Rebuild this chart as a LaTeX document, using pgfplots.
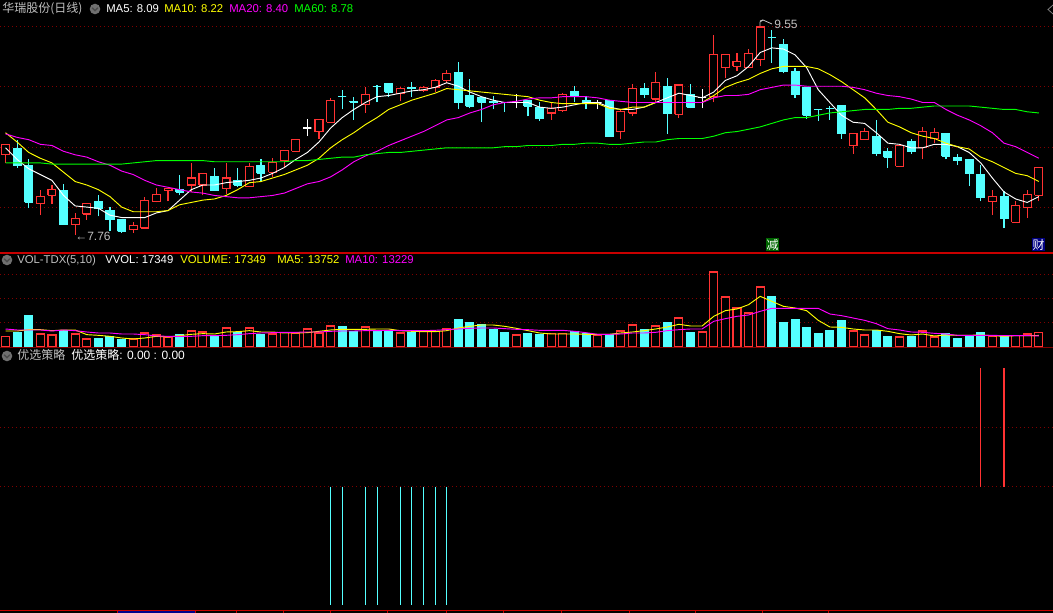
\documentclass[border=0pt]{standalone}
\usepackage{fontspec}
\usepackage{pgfplots}
\usepackage{pgfplotstable}
\pgfplotsset{compat=1.18}
\setmainfont{Liberation Sans}
\newfontfamily\cjk{Noto Sans CJK SC}

\definecolor{cred}{HTML}{FF3232}
\definecolor{ccyan}{HTML}{54FFFF}
\definecolor{cyel}{HTML}{FFFF00}
\definecolor{cmag}{HTML}{FF00FF}
\definecolor{cgrn}{HTML}{00FF00}
\definecolor{gridred}{HTML}{800000}
\definecolor{sepred}{HTML}{C80000}
\definecolor{txtgray}{HTML}{C0C0C0}
\definecolor{iconbg}{HTML}{707070}

% one candle: line, fill, index, low, body bottom, body top, high (prices)
\newcommand{\cnd}[7]{%
  \pgfmathsetmacro\xl{#3-0.34}\pgfmathsetmacro\xr{#3+0.34}%
  \edef\tmp{%
    \noexpand\addplot[draw=#1,line width=0.85pt] coordinates {(#3,#4)(#3,#7)};
    \noexpand\addplot[draw=#1,fill=#2,line width=0.85pt] coordinates {(\xl,#5)(\xr,#5)(\xr,#6)(\xl,#6)(\xl,#5)};
  }\tmp}
\newcommand{\candU}[5]{\cnd{cred}{black}{#1}{#2}{#3}{#4}{#5}}
\newcommand{\candD}[5]{\cnd{ccyan}{ccyan}{#1}{#2}{#3}{#4}{#5}}
\newcommand{\candW}[5]{\cnd{white}{white}{#1}{#2}{#3}{#4}{#5}}

\pgfplotstableread{
i ma5 ma10 ma20 ma60
0 8.51 8.64 8.63 8.38
1 8.41 8.56 8.60 8.38
2 8.33 8.47 8.58 8.38
3 8.28 8.42 8.54 8.38
4 8.23 8.38 8.53 8.37
5 8.10 8.30 8.48 8.37
6 8.01 8.22 8.45 8.37
7 8.00 8.19 8.43 8.37
8 7.99 8.15 8.39 8.37
9 7.93 8.09 8.36 8.37
10 7.91 8.00 8.31 8.37
11 7.91 7.96 8.28 8.38
12 7.91 7.96 8.23 8.39
13 7.95 7.96 8.19 8.40
14 7.97 7.97 8.17 8.40
15 8.06 8.02 8.15 8.40
16 8.15 8.04 8.13 8.40
17 8.19 8.06 8.12 8.40
18 8.19 8.07 8.10 8.39
19 8.21 8.10 8.09 8.39
20 8.22 8.15 8.08 8.39
21 8.23 8.21 8.08 8.39
22 8.25 8.22 8.09 8.39
23 8.29 8.25 8.10 8.39
24 8.34 8.28 8.12 8.39
25 8.41 8.32 8.16 8.40
26 8.47 8.36 8.20 8.40
27 8.56 8.42 8.22 8.41
28 8.68 8.51 8.26 8.42
29 8.77 8.58 8.32 8.43
30 8.84 8.64 8.39 8.43
31 8.90 8.71 8.44 8.45
32 8.95 8.77 8.48 8.46
33 8.96 8.84 8.53 8.47
34 8.98 8.88 8.57 8.47
35 9.00 8.92 8.61 8.48
36 9.01 8.95 8.65 8.49
37 9.03 8.98 8.70 8.50
38 9.07 9.02 8.75 8.51
39 9.04 9.01 8.77 8.51
40 8.99 9.00 8.81 8.51
41 8.95 8.99 8.84 8.51
42 8.92 8.98 8.88 8.51
43 8.90 8.97 8.90 8.52
44 8.90 8.96 8.91 8.52
45 8.90 8.95 8.93 8.53
46 8.86 8.92 8.94 8.53
47 8.85 8.90 8.94 8.53
48 8.86 8.89 8.95 8.54
49 8.88 8.89 8.95 8.54
50 8.90 8.89 8.95 8.55
51 8.90 8.89 8.94 8.55
52 8.86 8.85 8.92 8.54
53 8.84 8.84 8.91 8.54
54 8.84 8.86 8.90 8.55
55 8.86 8.86 8.90 8.56
56 8.90 8.90 8.90 8.56
57 8.94 8.90 8.90 8.58
58 8.98 8.90 8.90 8.59
59 8.96 8.90 8.90 8.59
60 8.94 8.90 8.90 8.59
61 8.99 8.96 8.94 8.61
62 9.09 9.03 8.96 8.64
63 9.13 9.07 8.96 8.65
64 9.21 9.10 8.97 8.67
65 9.33 9.15 9.01 8.69
66 9.37 9.19 9.03 8.72
67 9.36 9.21 9.05 8.75
68 9.31 9.21 9.05 8.77
69 9.20 9.21 9.04 8.77
70 9.01 9.19 9.04 8.79
71 8.90 9.14 9.04 8.81
72 8.79 9.08 9.04 8.82
73 8.73 9.01 9.03 8.83
74 8.72 8.94 9.01 8.84
75 8.64 8.84 8.98 8.84
76 8.55 8.73 8.96 8.84
77 8.54 8.69 8.95 8.85
78 8.51 8.64 8.93 8.85
79 8.51 8.61 8.90 8.86
80 8.54 8.59 8.90 8.87
81 8.54 8.55 8.84 8.87
82 8.52 8.52 8.79 8.87
83 8.47 8.50 8.75 8.87
84 8.38 8.43 8.70 8.86
85 8.25 8.39 8.64 8.85
86 8.13 8.34 8.55 8.84
87 8.07 8.29 8.52 8.84
88 8.04 8.27 8.47 8.82
89 8.09 8.22 8.42 8.81
}\matable

\pgfplotstableread{
i v5 v10
0 19060 21440
1 19060 20250
2 20640 20250
3 20640 20250
4 19450 19060
5 20250 20250
6 20250 19450
7 14690 17870
8 13900 16670
9 12700 16670
10 10720 15480
11 9530 15480
12 10720 14690
13 12700 13100
14 11910 12700
15 13500 12700
16 15090 12700
17 15880 13500
18 15480 13500
19 17870 13900
20 18260 14690
21 19450 15880
22 17870 16670
23 17870 17070
24 16670 17470
25 16670 17470
26 17070 17870
27 18660 17870
28 20250 18660
29 21040 19060
30 21040 19060
31 21040 19450
32 21440 19450
33 21440 19850
34 19450 19450
35 18660 19450
36 18260 19450
37 18260 19850
38 19450 20640
39 22630 21440
40 24610 22230
41 26200 22630
42 26200 22630
43 24610 21840
44 22230 21040
45 19450 20640
46 16670 19850
47 15480 19850
48 15480 19850
49 15480 18660
50 15090 17070
51 15090 15090
52 15090 15090
53 16670 15480
54 17870 16670
55 19450 16670
56 21440 17470
57 23820 19450
58 27000 20640
59 25010 21440
60 25010 21440
61 36520 30570
62 43270 33750
63 45260 36520
64 50420 38110
65 60340 42480
66 54390 46050
67 48430 46050
68 46450 46050
69 43270 46050
70 31760 46050
71 23820 39300
72 23420 37320
73 21440 34540
74 20250 31760
75 20250 27790
76 18660 21840
77 15880 20250
78 14290 17870
79 15480 17470
80 13100 16280
81 14290 15480
82 13900 13900
83 13900 13900
84 14290 13900
85 13500 13900
86 12700 13500
87 13500 13500
88 13500 13500
89 13752 13229
}\voltable

\pgfplotsset{
  panel/.style={
    scale only axis, width=789.75pt, anchor=south west,
    xmin=-0.474, xmax=90.22,
    axis line style={draw=none},
    xtick=\empty, yticklabels={}, xticklabels={},
    ytick style={draw=none},
    ymajorgrids,
    grid style={draw=gridred, line width=0.75pt, dash pattern=on 0.75pt off 2.25pt},
  },
}
\tikzset{
  lbl/.style={anchor=base west, inner sep=0pt, font=\fontsize{8.5}{10}\selectfont},
  cjklbl/.style={anchor=base west, inner sep=0pt, font=\fontsize{9}{10}\selectfont\cjk},
}
% chevron icon, centre given in page pixels
\newcommand{\icon}[2]{
  \fill[iconbg] (#1,#2) circle (5.3);
  \draw[black!70,line width=1pt] (#1-2.8,#2+1.2) -- (#1,#2-1.6) -- (#1+2.8,#2+1.2);
}

\begin{document}
\begin{tikzpicture}[x=0.75pt,y=0.75pt]
\fill[black] (0,0) rectangle (1053,613);
\useasboundingbox (0,0) rectangle (1053,613);

% price panel
\begin{axis}[panel, at={(0pt,270pt)}, height=189.75pt,
  ymin=7.605, ymax=9.782, ytick={8.0,8.514,9.036,9.552}]
\candU{0}{8.38}{8.45}{8.54}{8.54}
\candD{1}{8.34}{8.36}{8.50}{8.58}
\candD{2}{7.99}{8.04}{8.36}{8.41}
\candU{3}{7.93}{8.03}{8.09}{8.15}
\candU{4}{8.03}{8.10}{8.15}{8.19}
\candD{5}{7.85}{7.85}{8.14}{8.20}
\candU{6}{7.76}{7.85}{7.90}{7.95}
\candU{7}{7.89}{7.94}{8.03}{8.03}
\candD{8}{7.92}{7.99}{8.05}{8.10}
\candD{9}{7.79}{7.89}{7.97}{8.00}
\candD{10}{7.78}{7.79}{7.89}{7.89}
\candU{11}{7.78}{7.81}{7.84}{7.87}
\candU{12}{7.82}{7.82}{8.06}{8.09}
\candU{13}{8.04}{8.05}{8.11}{8.16}
\candU{14}{8.05}{8.14}{8.16}{8.16}
\candD{15}{8.10}{8.13}{8.15}{8.28}
\candU{16}{8.13}{8.19}{8.25}{8.38}
\candU{17}{8.10}{8.19}{8.29}{8.29}
\candD{18}{8.14}{8.14}{8.26}{8.34}
\candU{19}{8.11}{8.16}{8.25}{8.38}
\candD{20}{8.17}{8.19}{8.23}{8.34}
\candU{21}{8.18}{8.18}{8.35}{8.38}
\candD{22}{8.22}{8.29}{8.36}{8.41}
\candU{23}{8.26}{8.30}{8.38}{8.42}
\candU{24}{8.34}{8.40}{8.49}{8.49}
\candU{25}{8.48}{8.48}{8.58}{8.59}
\candW{26}{8.61}{8.68}{8.68}{8.76}
\candU{27}{8.59}{8.65}{8.75}{8.75}
\candU{28}{8.73}{8.73}{8.92}{8.94}
\candD{29}{8.84}{8.95}{8.95}{9.01}
\candD{30}{8.75}{8.90}{8.91}{8.95}
\candU{31}{8.81}{8.88}{8.97}{9.03}
\candD{32}{8.90}{9.04}{9.04}{9.05}
\candD{33}{8.95}{8.99}{9.06}{9.06}
\candU{34}{8.91}{8.98}{9.02}{9.03}
\candD{35}{8.95}{9.02}{9.03}{9.08}
\candU{36}{8.99}{9.00}{9.03}{9.04}
\candU{37}{8.99}{9.03}{9.09}{9.10}
\candU{38}{9.07}{9.09}{9.15}{9.18}
\candD{39}{8.84}{8.90}{9.16}{9.25}
\candD{40}{8.85}{8.87}{8.96}{9.10}
\candD{41}{8.73}{8.90}{8.94}{8.94}
\candD{42}{8.84}{8.90}{8.91}{8.96}
\candD{43}{8.82}{8.90}{8.90}{8.90}
\candW{44}{8.85}{8.90}{8.90}{8.97}
\candD{45}{8.78}{8.87}{8.92}{8.92}
\candD{46}{8.74}{8.76}{8.86}{8.90}
\candU{47}{8.75}{8.81}{8.85}{8.90}
\candU{48}{8.82}{8.83}{8.97}{8.98}
\candD{49}{8.90}{8.95}{8.99}{9.04}
\candD{50}{8.84}{8.89}{8.92}{8.96}
\candW{51}{8.84}{8.90}{8.90}{8.92}
\candD{52}{8.61}{8.61}{8.92}{8.92}
\candU{53}{8.59}{8.65}{8.82}{8.84}
\candU{54}{8.78}{8.81}{9.02}{9.06}
\candD{55}{8.94}{8.97}{9.02}{9.07}
\candU{56}{8.90}{8.93}{9.07}{9.16}
\candD{57}{8.63}{8.81}{9.04}{9.11}
\candU{58}{8.77}{8.80}{9.05}{9.05}
\candD{59}{8.85}{8.86}{8.97}{9.06}
\candW{60}{8.85}{8.94}{8.94}{9.02}
\candU{61}{8.90}{8.95}{9.31}{9.48}
\candU{62}{9.11}{9.20}{9.31}{9.31}
\candU{63}{9.17}{9.21}{9.25}{9.33}
\candU{64}{9.20}{9.20}{9.32}{9.36}
\candU{65}{9.21}{9.27}{9.55}{9.55}
\candD{66}{9.24}{9.46}{9.46}{9.52}
\candD{67}{9.15}{9.17}{9.40}{9.45}
\candD{68}{8.94}{8.97}{9.17}{9.20}
\candD{69}{8.76}{8.79}{9.03}{9.03}
\candD{70}{8.74}{8.84}{8.84}{8.84}
\candD{71}{8.75}{8.85}{8.85}{8.87}
\candD{72}{8.59}{8.63}{8.87}{8.87}
\candU{73}{8.46}{8.53}{8.63}{8.63}
\candU{74}{8.58}{8.58}{8.65}{8.68}
\candD{75}{8.44}{8.46}{8.61}{8.75}
\candD{76}{8.34}{8.43}{8.48}{8.51}
\candU{77}{8.35}{8.35}{8.53}{8.53}
\candD{78}{8.46}{8.48}{8.56}{8.59}
\candU{79}{8.41}{8.51}{8.65}{8.69}
\candU{80}{8.55}{8.59}{8.64}{8.68}
\candD{81}{8.41}{8.44}{8.63}{8.63}
\candD{82}{8.36}{8.40}{8.43}{8.46}
\candD{83}{8.18}{8.29}{8.41}{8.41}
\candD{84}{8.05}{8.08}{8.28}{8.36}
\candU{85}{7.93}{8.05}{8.09}{8.15}
\candD{86}{7.82}{7.90}{8.09}{8.14}
\candU{87}{7.87}{7.87}{8.01}{8.05}
\candU{88}{7.91}{8.00}{8.11}{8.15}
\candU{89}{8.05}{8.10}{8.34}{8.34}
\addplot[white,line width=0.7pt] table[x=i,y=ma5] {\matable};
\addplot[cyel,line width=0.7pt] table[x=i,y=ma10] {\matable};
\addplot[cmag,line width=0.7pt] table[x=i,y=ma20] {\matable};
\addplot[cgrn,line width=0.7pt] table[x=i,y=ma60] {\matable};
\end{axis}

% volume panel
\begin{axis}[panel, at={(0pt,199.5pt)}, height=70.5pt,
  ymin=0, ymax=111950, ytick={29420,58000,86580}]
\addplot[ybar,bar width=6pt,bar shift=0pt,draw=cred,fill=black,line width=0.85pt] coordinates {
(0,12700)(3,15480)(4,14290)(6,15480)(7,9530)(11,9530)(12,16670)(13,14290)(14,11910)
(16,19060)(17,17870)(19,22630)(21,22630)(23,15480)(24,17470)(25,16670)(26,21440)
(27,16670)(28,25010)(31,23820)(34,16670)(36,18660)(37,18660)(38,21440)(44,14290)
(47,15880)(48,15880)(51,13500)(53,19060)(54,26200)(56,25010)(58,34540)(60,17870)
(61,89330)(62,59550)(63,46450)(64,40490)(65,71460)(73,19060)(74,14290)(77,11910)
(79,19060)(80,11910)(85,13100)(87,13500)(88,15480)(89,17349)};
\addplot[ybar,bar width=6pt,bar shift=0pt,draw=ccyan,fill=ccyan,line width=0.75pt] coordinates {
(1,17470)(2,37320)(5,19850)(8,9930)(9,12700)(10,9130)(15,14690)(18,12700)(20,16670)
(22,14690)(29,24220)(30,18660)(32,18660)(33,19850)(35,17070)(39,32550)(40,28980)
(41,26200)(42,20640)(43,17070)(45,15880)(46,14690)(49,18660)(50,15880)(52,15090)
(55,20640)(57,28980)(59,17070)(66,59950)(67,28980)(68,32550)(69,23030)(70,15880)
(71,19450)(72,31360)(75,19450)(76,12310)(78,12310)(81,16280)(82,9930)(83,13900)
(84,17070)(86,13500)};
\addplot[cyel,line width=0.7pt] table[x=i,y=v5] {\voltable};
\addplot[cmag,line width=0.7pt] table[x=i,y=v10] {\voltable};
\end{axis}

% strategy panel
\begin{axis}[panel, at={(0pt,1.875pt)}, height=197.625pt,
  ymin=-1.04, ymax=1.174, ytick={0,0.5},
  xtick={9.65,16.32,19.85,23.9,27.95,32.9,37.94,42.9,47.9,53.7,59.46,65.2,70.9},
  xtick pos=bottom, tick align=outside, major tick length=2pt,
  x tick style={draw=sepred,line width=0.6pt}]
\addplot[ycomb,ccyan,line width=0.8pt] coordinates {
(28,-0.995)(29,-0.995)(31,-0.995)(32,-0.995)(34,-0.995)(35,-0.995)(36,-0.995)(37,-0.995)(38,-0.995)};
\addplot[ycomb,cred,line width=0.75pt] coordinates {(84,1)};
\addplot[ycomb,cred,line width=1.3pt] coordinates {(86,1)};
\end{axis}

% separators and bottom strip
\draw[sepred,line width=1pt] (0,360) -- (1053,360);
\draw[gridred,line width=0.6pt] (0,266) -- (1053,266);
\fill[blue!55!black] (117.5,0) rectangle (195,1.6);
\draw[sepred,line width=1pt] (0,2.5) -- (1053,2.5);

% price extremes, 9.55 pointer and the small corner mark
\node[lbl,text=txtgray,font=\fontsize{9}{10}\selectfont] at (75,372) {←7.76};
\node[lbl,text=txtgray,font=\fontsize{9}{10}\selectfont] at (774,584) {9.55};
\draw[txtgray,line width=0.6pt] (763,593) -- (760,591) -- (760,587);
\draw[txtgray,line width=0.6pt] (760,592) -- (763,593) -- (772,589);
\draw[gray,line width=0.6pt] (1053,608) -- (1048,603.5) -- (1053,599);

% panel headers
\node[cjklbl,text=txtgray] at (2,600) {华瑞股份(日线)};
\icon{95}{604}
\node[lbl,text=white] at (106,600) {MA5: 8.09};
\node[lbl,text=cyel] at (164,600) {MA10: 8.22};
\node[lbl,text=cmag] at (229,600) {MA20: 8.40};
\node[lbl,text=cgrn] at (294,600) {MA60: 8.78};

\icon{7}{353}
\node[lbl,text=txtgray] at (17,349) {VOL-TDX(5,10)};
\node[lbl,text=white] at (105,349) {VVOL: 17349};
\node[lbl,text=cyel] at (180,349) {VOLUME: 17349};
\node[lbl,text=cyel] at (277,349) {MA5: 13752};
\node[lbl,text=cmag] at (345,349) {MA10: 13229};

\icon{7}{257}
\node[cjklbl,text=txtgray] at (17,253) {优选策略};
\node[cjklbl,text=white] at (71,253) {优选策略{\rmfamily: 0.00 : 0.00}};

% event badges
\fill[green!40!black] (766,362) rectangle (779,375);
\node[cjklbl,anchor=center,text=white] at (772.5,368.5) {减};
\fill[blue!50!black] (1032,362) rectangle (1045,375);
\node[cjklbl,anchor=center,text=white] at (1038.5,368.5) {财};
\end{tikzpicture}
\end{document}
